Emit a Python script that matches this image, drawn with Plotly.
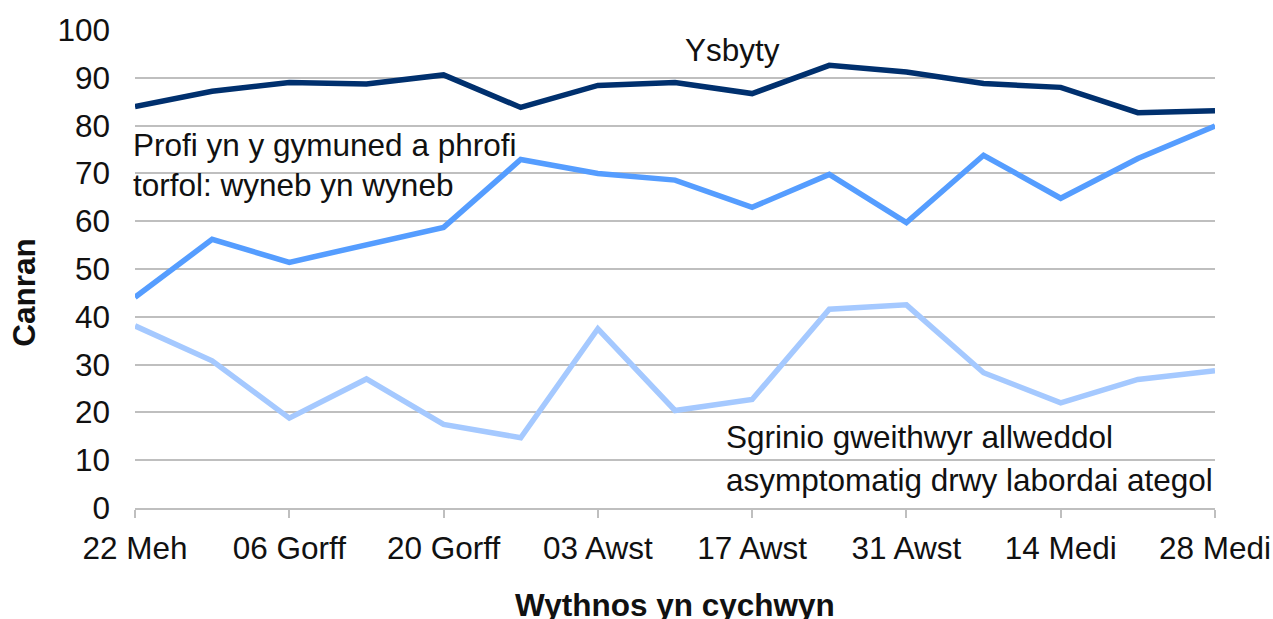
import plotly.graph_objects as go

weeks = ["22 Meh", "29 Meh", "06 Gorff", "13 Gorff", "20 Gorff", "27 Gorff", "03 Awst",
         "10 Awst", "17 Awst", "24 Awst", "31 Awst", "07 Medi", "14 Medi", "21 Medi", "28 Medi"]
tick_labels = ["22 Meh", "06 Gorff", "20 Gorff", "03 Awst", "17 Awst", "31 Awst", "14 Medi", "28 Medi"]

ysbyty = [84.0, 87.2, 89.0, 88.7, 90.6, 83.8, 88.4, 89.0, 86.7, 92.6, 91.2, 88.8, 88.0, 82.7, 83.1]
cymuned = [44.1, 56.2, 51.4, 55.0, 58.7, 72.9, 70.0, 68.6, 62.9, 69.8, 59.7, 73.8, 64.8, 73.1, 79.9]
allweddol = [38.1, 30.8, 18.8, 27.0, 17.5, 14.7, 37.5, 20.4, 22.7, 41.6, 42.5, 28.3, 22.0, 26.9, 28.7]

x_idx = list(range(len(weeks)))
tick_idx = [weeks.index(t) for t in tick_labels]

FONT = "Liberation Sans, Arial, sans-serif"
FS = 31.5

fig = go.Figure()
fig.add_trace(go.Scatter(x=x_idx, y=allweddol, mode="lines", name="Sgrinio gweithwyr allweddol",
                         line=dict(color="#A5C9FF", width=5.5), hoverinfo="skip"))
fig.add_trace(go.Scatter(x=x_idx, y=cymuned, mode="lines", name="Profi yn y gymuned",
                         line=dict(color="#559DFF", width=5.5), hoverinfo="skip"))
fig.add_trace(go.Scatter(x=x_idx, y=ysbyty, mode="lines", name="Ysbyty",
                         line=dict(color="#00306E", width=5.5), hoverinfo="skip"))

fig.update_layout(
    width=1273, height=619,
    margin=dict(l=135, r=58, t=30, b=111, autoexpand=False),
    paper_bgcolor="white", plot_bgcolor="white",
    showlegend=False,
    font=dict(family=FONT, size=FS, color="#111111"),
)
fig.update_xaxes(
    range=[0, len(weeks) - 1], automargin=False,
    tickmode="array", tickvals=tick_idx, ticktext=tick_labels,
    showgrid=False, zeroline=False,
    showline=True, linecolor="#BFBFBF", linewidth=2,
    ticks="outside", ticklen=8, tickwidth=2, tickcolor="#BFBFBF",
    tickfont=dict(family=FONT, size=FS, color="#111111"),
    ticklabelstandoff=3,
)
fig.update_yaxes(
    range=[0, 100], tickmode="array", tickvals=list(range(0, 101, 10)), automargin=False,
    showgrid=True, gridcolor="#BFBFBF", gridwidth=2,
    zeroline=False, showline=False, ticks="",
    tickfont=dict(family=FONT, size=FS, color="#111111"),
    ticklabelstandoff=24,
)

ann = [
    dict(text="Ysbyty", x=7.745, y=95.9, xref="x", yref="y", xanchor="center", yanchor="middle"),
    dict(text="Profi yn y gymuned a phrofi", x=-0.0019, y=0.759, xref="paper", yref="paper", xanchor="left", yanchor="middle"),
    dict(text="torfol: wyneb yn wyneb", x=-0.0019, y=0.675, xref="paper", yref="paper", xanchor="left", yanchor="middle"),
    dict(text="Sgrinio gweithwyr allweddol", x=7.66, y=14.85, xref="x", yref="y", xanchor="left", yanchor="middle"),
    dict(text="asymptomatig drwy labordai ategol", x=7.66, y=5.86, xref="x", yref="y", xanchor="left", yanchor="middle"),
    dict(text="<b>Canran</b>", x=-0.1028, y=0.4525, xref="paper", yref="paper", xanchor="center", yanchor="middle",
         textangle=-90),
    dict(text="<b>Wythnos yn cychwyn</b>", x=0.5, y=-0.203, xref="paper", yref="paper", xanchor="center", yanchor="middle"),
]
for a in ann:
    a.update(showarrow=False, font=dict(family=FONT, size=FS, color="#111111"), borderpad=0, borderwidth=0)
    fig.add_annotation(**a)

fig.write_html("out.html", config={"displayModeBar": False},
               post_script="document.body.style.margin='0';document.body.style.overflow='hidden';")
